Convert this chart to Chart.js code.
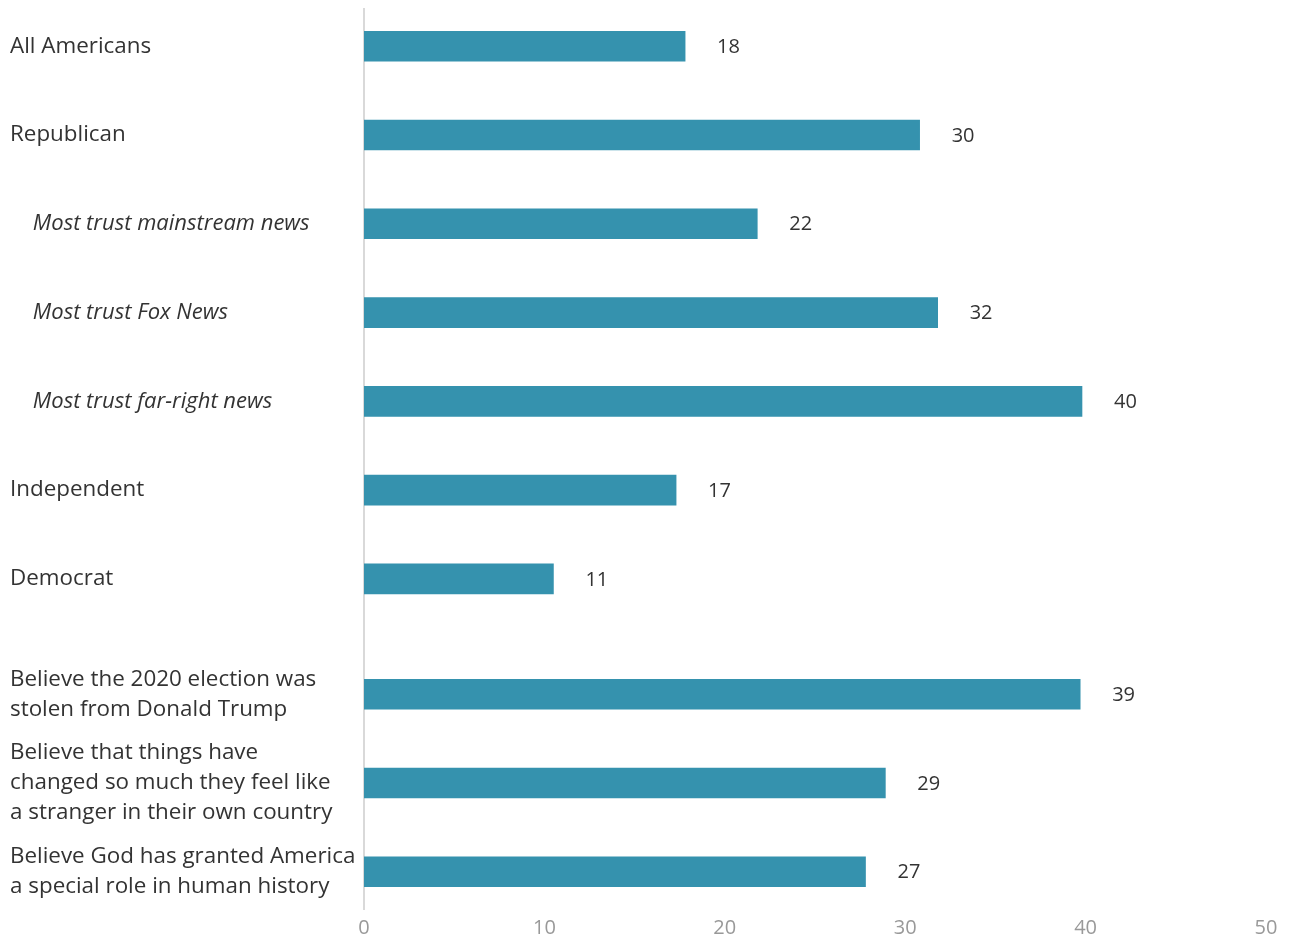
<!DOCTYPE html>
<html>
<head>
<meta charset="utf-8">
<script src="https://cdn.jsdelivr.net/npm/chart.js@4/dist/chart.umd.min.js"></script>
<style>
  body { margin: 0; background: #fff; }
  #wrap { width: 1291px; height: 941px; }
</style>
</head>
<body>
<div id="wrap"><canvas id="chart" width="1291" height="941"></canvas></div>
<script>
// Row labels (arrays = wrapped lines)
const categories = [
    'All Americans',
    'Republican',
    'Most trust mainstream news',
    'Most trust Fox News',
    'Most trust far-right news',
    'Independent',
    'Democrat',
    ['Believe the 2020 election was', 'stolen from Donald Trump'],
    ['Believe that things have', 'changed so much they feel like', 'a stranger in their own country'],
    ['Believe God has granted America', 'a special role in human history']
];
// sub-group rows shown in italics and indented
const subRows = [2, 3, 4];
// second block of rows starts here, after a small gap
const groupBreak = 7;

// bar lengths as drawn, and the printed values
const values = [17.8, 30.8, 21.8, 31.8, 39.8, 17.3, 10.5, 39.7, 28.9, 27.8];
const valueLabels = ['18', '30', '22', '32', '40', '17', '11', '39', '29', '27'];

const xTicks = [0, 10, 20, 30, 40, 50];

const GAP = 0.3;
const rowPos = categories.map((c, i) => i + (i >= groupBreak ? GAP : 0));

const FONT = "'Open Sans', 'Noto Sans', sans-serif";

// value labels to the right of each bar
const valueLabelPlugin = {
    id: 'valueLabels',
    afterDatasetsDraw(chart) {
        const ctx = chart.ctx;
        const meta = chart.getDatasetMeta(0);
        ctx.save();
        ctx.font = '20px ' + FONT;
        ctx.fillStyle = '#333';
        ctx.textAlign = 'left';
        ctx.textBaseline = 'middle';
        meta.data.forEach((bar, i) => {
            ctx.fillText(valueLabels[i], bar.x + 32, bar.y + 1);
        });
        ctx.restore();
    }
};

const ctx = document.getElementById('chart').getContext('2d');
const chart = new Chart(ctx, {
    type: 'bar',
    data: {
        datasets: [{
            data: values.map((v, i) => ({ x: v, y: rowPos[i] })),
            backgroundColor: '#3592ae',
            barThickness: 30,
            borderWidth: 0
        }]
    },
    options: {
        indexAxis: 'y',
        responsive: false,
        animation: false,
        layout: { padding: { left: 10, right: 25, top: 9, bottom: 0 } },
        plugins: {
            legend: { display: false },
            tooltip: { enabled: false }
        },
        scales: {
            x: {
                type: 'linear',
                min: 0,
                max: 50,
                afterBuildTicks: (scale) => { scale.ticks = xTicks.map(v => ({ value: v })); },
                afterFit: (scale) => { scale.height = 32; },
                grid: { display: false, drawTicks: false },
                border: { display: false },
                ticks: {
                    color: '#999',
                    padding: 7,
                    font: { family: FONT, size: 20 }
                }
            },
            y: {
                type: 'linear',
                reverse: true,
                offset: false,
                min: -0.42,
                max: 9 + GAP + 0.42,
                afterBuildTicks: (scale) => { scale.ticks = rowPos.map(v => ({ value: v })); },
                afterFit: (scale) => {
                    scale.width = 354;
                    scale.paddingTop = 0;
                    scale.paddingBottom = 0;
                },
                grid: { display: false, drawTicks: false },
                border: { display: true, color: '#d9d9d9', width: 2 },
                ticks: {
                    crossAlign: 'far',
                    color: '#333',
                    autoSkip: false,
                    callback: (value, index) => {
                        const lab = categories[index];
                        return subRows.includes(index) ? '    ' + lab : lab;
                    },
                    font: (c) => ({
                        family: FONT,
                        size: subRows.includes(c.index) ? 22 : 22.4,
                        lineHeight: 30 / 22.4,
                        style: subRows.includes(c.index) ? 'italic' : 'normal'
                    })
                }
            }
        }
    },
    plugins: [valueLabelPlugin]
});
</script>
</body>
</html>
